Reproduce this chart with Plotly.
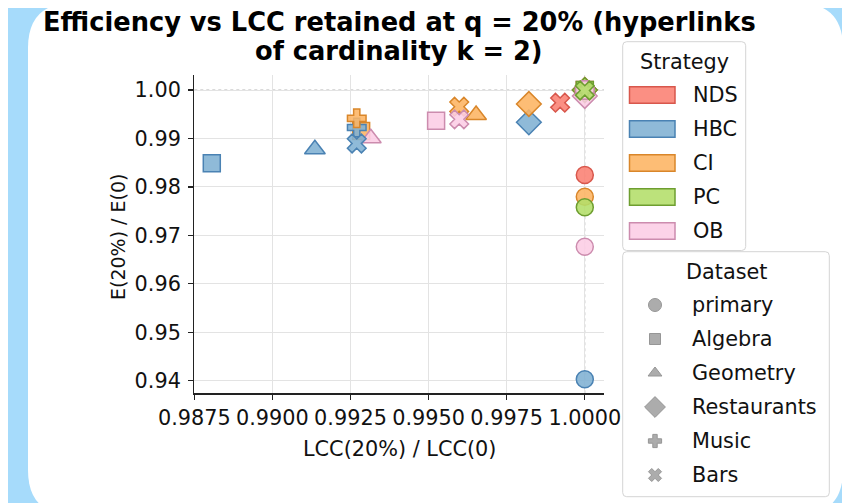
import plotly.graph_objects as go

W, H = 850, 503
OFF = 8  # page body margin offset of the rendered figure

# ---------------- data ----------------
strategies = ["NDS", "HBC", "CI", "PC", "OB"]
strategy_fill = ["#fb8072", "#80b1d3", "#fdb462", "#b3de69", "#fccde5"]
strategy_edge = ["#d8574c", "#4a82b3", "#d9862a", "#6e9e30", "#cc8cae"]

datasets = ["primary", "Algebra", "Geometry", "Restaurants", "Music", "Bars"]
dataset_symbols = ["circle", "square", "triangle-up", "diamond", "cross", "x"]

# LCC(20%)/LCC(0) per dataset (order of `datasets`)
lcc_nds = [1.0000, 1.0000, 1.0000, 1.0000, 1.0000, 0.99921]
lcc_hbc = [1.0000, 0.98806, 0.99136, 0.99821, 0.99270, 0.99270]
lcc_ci = [1.0000, 0.99284, 0.99652, 0.99821, 0.99270, 0.99598]
lcc_pc = [1.0000, 1.0000, 1.0000, 1.0000, 1.0000, 1.0000]
lcc_ob = [1.0000, 0.99524, 0.99315, 1.0000, 1.0000, 0.99598]

# E(20%)/E(0) per dataset
eff_nds = [0.98246, 1.0000, 1.0000, 1.0000, 1.0000, 0.99738]
eff_hbc = [0.94029, 0.98487, 0.98776, 0.99333, 0.99226, 0.98896]
eff_ci = [0.97798, 0.99154, 0.99484, 0.99711, 0.99416, 0.99655]
eff_pc = [0.97579, 1.0000, 1.0000, 1.0000, 1.0000, 0.99990]
eff_ob = [0.96766, 0.99366, 0.99003, 0.99876, 1.0000, 0.99395]

lcc_values = [lcc_nds, lcc_hbc, lcc_ci, lcc_pc, lcc_ob]
eff_values = [eff_nds, eff_hbc, eff_ci, eff_pc, eff_ob]

x_ticks = [0.9875, 0.9900, 0.9925, 0.9950, 0.9975, 1.0000]
y_ticks = [0.94, 0.95, 0.96, 0.97, 0.98, 0.99, 1.00]

title_lines = ["Efficiency vs LCC retained at q = 20% (hyperlinks",
               "of cardinality k = 2)"]
x_label = "LCC(20%) / LCC(0)"
y_label = "E(20%) / E(0)"

FONT = "DejaVu Sans"
TXT = "#111111"
FS = 20.8

marker_size = {"circle": 17, "square": 17, "triangle-up": 18, "diamond": 19,
               "cross": 15.5, "x": 16.5}
legend_marker_size = [13, 11, 12, 16, 11, 11.5]


def rgba(hex_color, a):
    h = hex_color.lstrip("#")
    r, g, b = int(h[0:2], 16), int(h[2:4], 16), int(h[4:6], 16)
    return f"rgba({r},{g},{b},{a})"


fig = go.Figure()

# ---------------- data traces (dataset-major draw order) ----------------
for di, ds in enumerate(datasets):
    for si, st in enumerate(strategies):
        fig.add_trace(go.Scatter(
            x=[lcc_values[si][di]], y=[eff_values[si][di]],
            mode="markers", showlegend=False, hoverinfo="skip",
            marker=dict(symbol=dataset_symbols[di],
                        size=marker_size[dataset_symbols[di]],
                        color=rgba(strategy_fill[si], 0.88),
                        line=dict(color=strategy_edge[si], width=1.5)),
            xaxis="x", yaxis="y"))

# ---------------- layout in screen pixels ----------------
px_left, px_right, px_top, px_bottom = 194.3, 604.0, 75.0, 393.3

ds_leg_x = 655
ds_leg_y0, ds_leg_dy = 305, 34
fig.add_trace(go.Scatter(
    x=[ds_leg_x] * len(datasets),
    y=[ds_leg_y0 + i * ds_leg_dy for i in range(len(datasets))],
    mode="markers", showlegend=False, hoverinfo="skip",
    marker=dict(symbol=dataset_symbols, size=legend_marker_size,
                color="#8a8a8a", line=dict(color="#6a6a6a", width=1)),
    xaxis="x2", yaxis="y2"))

shapes = []


def pp(px, py):
    return f"{(px - OFF) / W:.5f},{1 - (py - OFF) / H:.5f}"


L, R, T, B, r = 28, 843, 3, 515, 45
card = (f"M {pp(L + r, T)} L {pp(R - r, T)} Q {pp(R, T)} {pp(R, T + r)} "
        f"L {pp(R, B - r)} Q {pp(R, B)} {pp(R - r, B)} "
        f"L {pp(L + r, B)} Q {pp(L, B)} {pp(L, B - r)} "
        f"L {pp(L, T + r)} Q {pp(L, T)} {pp(L + r, T)} Z")
shapes.append(dict(type="path", path=card, xref="paper", yref="paper",
                   fillcolor="white", line=dict(width=0), layer="below"))

shapes.append(dict(type="line", xref="x", yref="y domain", x0=1.0, x1=1.0, y0=0, y1=1,
                   line=dict(color="#b5b5b5", width=1, dash="dot"), layer="below"))
shapes.append(dict(type="line", xref="x domain", yref="y", x0=0, x1=1, y0=1.0, y1=1.0,
                   line=dict(color="#b5b5b5", width=1, dash="dot"), layer="below"))


def rbox(x0, y0, x1, y1, rr=4):
    return (f"M {x0 + rr},{y0} L {x1 - rr},{y0} Q {x1},{y0} {x1},{y0 + rr} "
            f"L {x1},{y1 - rr} Q {x1},{y1} {x1 - rr},{y1} L {x0 + rr},{y1} "
            f"Q {x0},{y1} {x0},{y1 - rr} L {x0},{y0 + rr} Q {x0},{y0} {x0 + rr},{y0} Z")


shapes.append(dict(type="path", path=rbox(622.7, 41.7, 745.7, 250.5), xref="x2", yref="y2",
                   fillcolor="rgba(255,255,255,0.85)", line=dict(color="#d4d4d4", width=1),
                   layer="below"))
shapes.append(dict(type="path", path=rbox(622.7, 251.7, 829.3, 496.7), xref="x2", yref="y2",
                   fillcolor="rgba(255,255,255,0.85)", line=dict(color="#d4d4d4", width=1),
                   layer="below"))

annotations = []

st_y0, st_dy = 95, 34
for i, st in enumerate(strategies):
    yc = st_y0 + i * st_dy
    shapes.append(dict(type="rect", xref="x2", yref="y2", x0=629.5, x1=675, y0=yc - 8.3, y1=yc + 8.3,
                       fillcolor=rgba(strategy_fill[i], 0.88),
                       line=dict(color=strategy_edge[i], width=1.5), layer="above"))
    annotations.append(dict(xref="x2", yref="y2", x=691, y=yc, text=st, showarrow=False,
                            xanchor="left", yanchor="middle",
                            font=dict(family=FONT, size=FS, color=TXT)))
annotations.append(dict(xref="x2", yref="y2", x=684, y=62, text="Strategy", showarrow=False,
                        xanchor="center", yanchor="middle",
                        font=dict(family=FONT, size=FS, color=TXT)))

for i, ds in enumerate(datasets):
    annotations.append(dict(xref="x2", yref="y2", x=690, y=ds_leg_y0 + i * ds_leg_dy, text=ds,
                            showarrow=False, xanchor="left", yanchor="middle",
                            font=dict(family=FONT, size=FS, color=TXT)))
annotations.append(dict(xref="x2", yref="y2", x=726, y=272, text="Dataset", showarrow=False,
                        xanchor="center", yanchor="middle",
                        font=dict(family=FONT, size=FS, color=TXT)))

for i, line in enumerate(title_lines):
    annotations.append(dict(xref="x2", yref="y2", x=399, y=22 + i * 29, text=line, showarrow=False,
                            xanchor="center", yanchor="middle",
                            font=dict(family=FONT, size=25.7, color="#000000", weight="bold")))

annotations.append(dict(xref="x2", yref="y2", x=399, y=449, text=x_label, showarrow=False,
                        xanchor="center", yanchor="middle",
                        font=dict(family=FONT, size=FS, color=TXT)))
annotations.append(dict(xref="x2", yref="y2", x=118, y=237, text=y_label, showarrow=False,
                        textangle=-90, xanchor="center", yanchor="middle",
                        font=dict(family=FONT, size=19, color=TXT)))

x_per_px = 0.0025 / 78.1
y_per_px = 0.01 / 48.45
x_range = [0.9875 - (194.3 - px_left) * x_per_px, 0.9875 + (px_right - 194.3) * x_per_px]
y_range = [1.0 - (px_bottom - 90.0) * y_per_px, 1.0 + (90.0 - px_top) * y_per_px]

axis_common = dict(showgrid=True, gridcolor="#e3e3e3", gridwidth=1, zeroline=False,
                   showline=True, linecolor="#222222", linewidth=1.25, mirror=False,
                   ticks="outside", ticklen=5, tickwidth=1.25, tickcolor="#222222",
                   automargin=False,
                   tickfont=dict(family=FONT, size=FS, color=TXT))

fig.update_layout(
    width=W, height=H,
    margin=dict(l=0, r=0, t=0, b=0, pad=0, autoexpand=False),
    paper_bgcolor="#a6dbfb",
    plot_bgcolor="rgba(0,0,0,0)",
    showlegend=False,
    hovermode=False,
    font=dict(family=FONT, color=TXT),
    xaxis=dict(domain=[(px_left - OFF) / W, (px_right - OFF) / W], range=x_range,
               tickvals=x_ticks, ticktext=[f"{v:.4f}" for v in x_ticks], **axis_common),
    yaxis=dict(domain=[1 - (px_bottom - OFF) / H, 1 - (px_top - OFF) / H], range=y_range,
               tickvals=y_ticks, ticktext=[f"{v:.2f}" for v in y_ticks],
               ticklabelstandoff=3, **axis_common),
    xaxis2=dict(domain=[0, 1], range=[OFF, W + OFF], visible=False, anchor="y2",
                fixedrange=True, automargin=False),
    yaxis2=dict(domain=[0, 1], range=[H + OFF, OFF], visible=False, anchor="x2",
                fixedrange=True, automargin=False),
    shapes=shapes,
    annotations=annotations,
)

fig.write_html("out.html", config={"displayModeBar": False, "staticPlot": True})
